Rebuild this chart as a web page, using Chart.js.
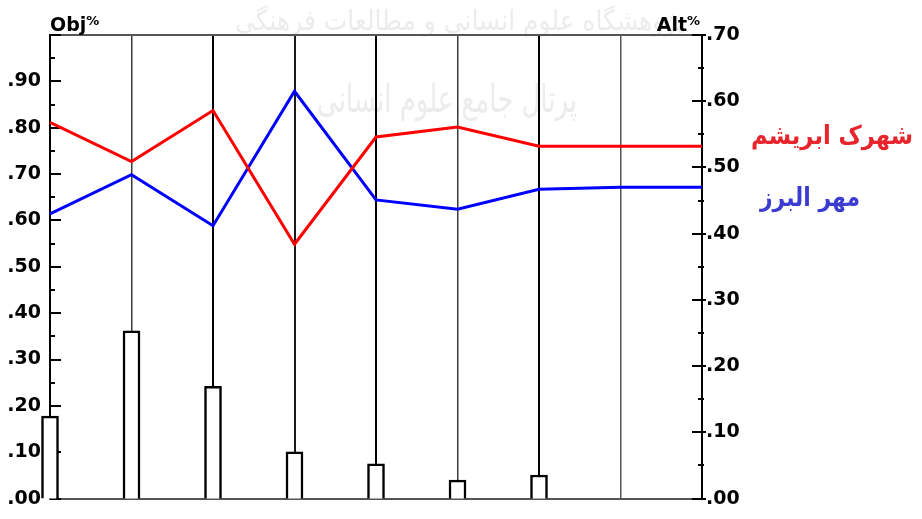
<!DOCTYPE html>
<html>
<head>
<meta charset="utf-8">
<script src="https://cdn.jsdelivr.net/npm/chart.js@4.4.1/dist/chart.umd.min.js"></script>
<style>
  html, body { margin: 0; padding: 0; background: #fff; }
</style>
</head>
<body>
<canvas id="chart" width="922" height="519"></canvas>
<script>
// criteria positions along the x axis (last two have no bar)
const categories = ['C1', 'C2', 'C3', 'C4', 'C5', 'C6', 'C7', 'Overall', 'End'];
// Obj% - criteria weights (left axis)
const criteriaWeights = [0.178, 0.362, 0.242, 0.101, 0.075, 0.040, 0.051, null, null];
// Alt% - alternatives (right axis)
const shahrakAbrisham = [0.568, 0.509, 0.586, 0.384, 0.546, 0.561, 0.532, 0.532, 0.532];
const mehrAlborz = [0.430, 0.489, 0.412, 0.615, 0.451, 0.437, 0.467, 0.470, 0.470];
const seriesNames = ['شهرک ابریشم', 'مهر البرز'];
const objMax = 1.0;
const altMax = 0.70;
const tickStep = 0.05;

const tickFont = { family: 'DejaVu Sans', weight: 'bold', size: 19 };

function fmt(v) {
	return '.' + String(Math.round(v * 100)).padStart(2, '0');
}

// vertical grid lines at the criteria: some heavier than others
const gridColors = ['rgba(0,0,0,0)', '#3a3a3a', '#000', '#1a1a1a', '#000', '#3a3a3a', '#000', '#555', 'rgba(0,0,0,0)'];
const gridWidths = [0, 1.5, 2, 2, 2, 1.5, 2, 1.5, 0];

const decor = {
	id: 'decor',
	beforeDraw(chart) {
		const { ctx, width, height } = chart;
		ctx.save();
		ctx.fillStyle = '#fff';
		ctx.fillRect(0, 0, width, height);
		// faint watermark
		ctx.fillStyle = 'rgba(200,200,200,0.35)';
		ctx.textAlign = 'center';
		ctx.font = '28px "DejaVu Sans"';
		ctx.fillText('پژوهشگاه علوم انسانی و مطالعات فرهنگی', 460, 30, 450);
		ctx.font = '38px "DejaVu Sans"';
		ctx.fillText('پرتال جامع علوم انسانی', 447, 112, 260);
		ctx.restore();
	},
	beforeDatasetsDraw(chart) {
		const { ctx, chartArea: a, scales } = chart;
		ctx.save();
		// top frame line
		ctx.strokeStyle = '#555';
		ctx.lineWidth = 2;
		ctx.beginPath();
		ctx.moveTo(a.left, a.top);
		ctx.lineTo(a.right, a.top);
		ctx.stroke();
		// inward tick marks
		ctx.strokeStyle = '#000';
		scales.y.ticks.forEach(t => {
			const py = Math.round(scales.y.getPixelForValue(t.value));
			const major = Math.round(t.value * 100) % 10 === 0;
			ctx.beginPath();
			ctx.moveTo(a.left, py);
			ctx.lineTo(a.left + (major ? 11 : 5), py);
			ctx.stroke();
		});
		scales.y2.ticks.forEach(t => {
			const py = Math.round(scales.y2.getPixelForValue(t.value));
			const major = Math.round(t.value * 100) % 10 === 0;
			ctx.beginPath();
			ctx.moveTo(a.right - (major ? 10 : 4), py);
			ctx.lineTo(a.right + (major ? 4 : 2), py);
			ctx.stroke();
		});
		ctx.restore();
	},
	afterDraw(chart) {
		const { ctx, chartArea: a, data } = chart;
		ctx.save();
		ctx.fillStyle = '#000';
		ctx.textBaseline = 'alphabetic';
		// axis titles
		ctx.font = 'bold 19px "DejaVu Sans"';
		ctx.textAlign = 'left';
		ctx.fillText('Obj', a.left, a.top - 4);
		const w = ctx.measureText('Obj').width;
		ctx.font = 'bold 13px "DejaVu Sans"';
		ctx.fillText('%', a.left + w, a.top - 10);
		const pw = ctx.measureText('%').width;
		ctx.textAlign = 'right';
		ctx.fillText('%', a.right - 2, a.top - 10);
		ctx.font = 'bold 19px "DejaVu Sans"';
		ctx.fillText('Alt', a.right - 2 - pw, a.top - 4);
		// legend
		ctx.textAlign = 'center';
		ctx.textBaseline = 'middle';
		const legendPos = [[a.right + 130, 137, 162], [a.right + 108, 199, 100]];
		const legendColors = ['#e8242c', '#3c3cd2'];
		data.datasets.filter(d => d.type === 'line').forEach((d, i) => {
			ctx.font = 'bold 26px "DejaVu Sans"';
			ctx.fillStyle = legendColors[i];
			ctx.fillText(d.label, legendPos[i][0], legendPos[i][1], legendPos[i][2]);
		});
		ctx.restore();
	}
};

new Chart(document.getElementById('chart'), {
	type: 'bar',
	data: {
		labels: categories,
		datasets: [
			{
				type: 'line',
				label: seriesNames[0],
				data: shahrakAbrisham,
				yAxisID: 'y2',
				borderColor: '#ff0000',
				borderWidth: 3,
				pointRadius: 0,
				tension: 0,
				fill: false
			},
			{
				type: 'line',
				label: seriesNames[1],
				data: mehrAlborz,
				yAxisID: 'y2',
				borderColor: '#0000ff',
				borderWidth: 3,
				pointRadius: 0,
				tension: 0,
				fill: false
			},
			{
				type: 'bar',
				label: 'Obj%',
				data: criteriaWeights,
				yAxisID: 'y',
				backgroundColor: '#fff',
				borderColor: '#000',
				borderWidth: 2.5,
				barThickness: 17,
				clip: false
			}
		]
	},
	options: {
		responsive: false,
		animation: false,
		events: [],
		layout: {
			padding: { left: 0, top: 35, right: 180, bottom: 11 }
		},
		plugins: {
			legend: { display: false },
			tooltip: { enabled: false }
		},
		scales: {
			x: {
				type: 'category',
				offset: false,
				grid: {
					offset: false,
					drawTicks: false,
					color: c => gridColors[c.index],
					lineWidth: c => gridWidths[c.index]
				},
				border: { color: '#555', width: 2 },
				ticks: { display: false }
			},
			y: {
				position: 'left',
				min: 0,
				max: objMax,
				grid: { display: false, drawTicks: false },
				border: { color: '#000', width: 2 },
				ticks: {
					stepSize: tickStep,
					autoSkip: false,
					padding: 9,
					color: '#000',
					font: tickFont,
					callback: v => (Math.round(v * 100) % 10 === 0 && v < objMax - 0.001) ? fmt(v) : ''
				},
				afterFit: s => { s.width = 50; }
			},
			y2: {
				position: 'right',
				min: 0,
				max: altMax,
				grid: { display: false, drawTicks: false },
				border: { color: '#000', width: 2 },
				ticks: {
					stepSize: tickStep,
					autoSkip: false,
					padding: 4,
					color: '#000',
					font: tickFont,
					callback: v => Math.round(v * 100) % 10 === 0 ? fmt(v) : ''
				},
				afterFit: s => { s.width = 40; }
			}
		}
	},
	plugins: [decor]
});
</script>
</body>
</html>
